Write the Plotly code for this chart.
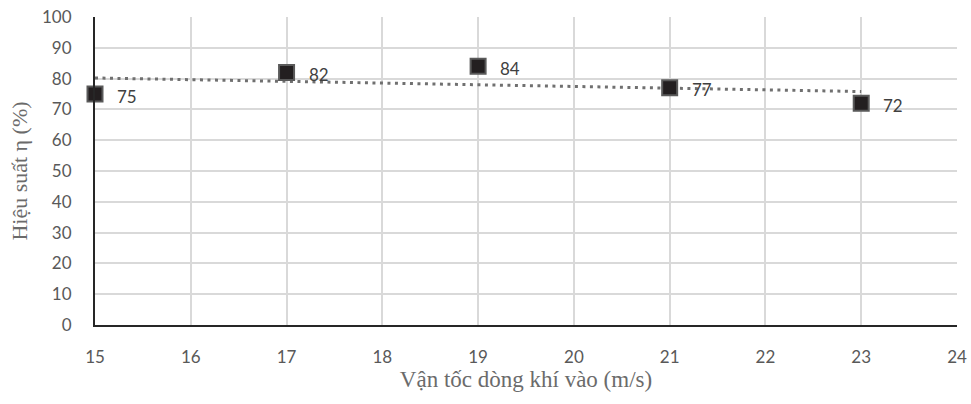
import numpy as np
import plotly.graph_objects as go

velocity = [15, 17, 19, 21, 23]
efficiency = [75, 82, 84, 77, 72]
x_title = "Vận tốc dòng khí vào (m/s)"
y_title = "Hiệu suất η (%)"

slope, intercept = np.polyfit(velocity, efficiency, 1)
trend_x = [min(velocity), max(velocity)]
trend_y = [slope * v + intercept for v in trend_x]

fig = go.Figure()
fig.add_trace(go.Scatter(
    x=trend_x, y=trend_y, mode="lines",
    line=dict(color="#707070", width=3, dash="3px,4.5px"),
    hoverinfo="skip", showlegend=False, cliponaxis=False,
))
fig.add_trace(go.Scatter(
    x=velocity, y=efficiency, mode="markers",
    marker=dict(symbol="square", size=15, color="#231f20",
                line=dict(color="#5a5a5a", width=2)),
    showlegend=False, cliponaxis=False,
))
for xv, yv in zip(velocity, efficiency):
    fig.add_annotation(
        x=xv, y=yv, text=str(yv), showarrow=False,
        xanchor="left", yanchor="middle", xshift=20, yshift=-2,
        font=dict(family="Lato, Open Sans, sans-serif", size=17, color="#404040"),
    )

fig.update_layout(
    width=971, height=404,
    margin=dict(l=95, r=14, t=17, b=79, autoexpand=False),
    paper_bgcolor="white", plot_bgcolor="white",
    font=dict(family="Lato, Open Sans, sans-serif", color="#595959"),
)
fig.update_xaxes(
    range=[15, 24], dtick=1, tick0=15,
    showgrid=True, gridcolor="#d9d9d9", gridwidth=1.5,
    showline=True, linecolor="#262626", linewidth=2,
    zeroline=False, ticks="", ticklabelstandoff=16,
    automargin=False,
    tickfont=dict(size=17, color="#595959"),
    title=dict(text=x_title, font=dict(family="Liberation Serif, Times New Roman, serif",
                                       size=23, color="#6b6b6b"), standoff=2),
)
fig.update_yaxes(
    range=[0, 100], dtick=10,
    showgrid=True, gridcolor="#d9d9d9", gridwidth=1.5,
    showline=True, linecolor="#262626", linewidth=2,
    zeroline=False, ticks="", ticklabelstandoff=18,
    automargin=False,
    tickfont=dict(size=17, color="#595959"),
    title=dict(text=y_title, font=dict(family="Liberation Serif, Times New Roman, serif",
                                       size=22, color="#6b6b6b"), standoff=8),
)
fig.write_html("out.html", config={"displayModeBar": False},
               post_script="document.body.style.margin='0';")
